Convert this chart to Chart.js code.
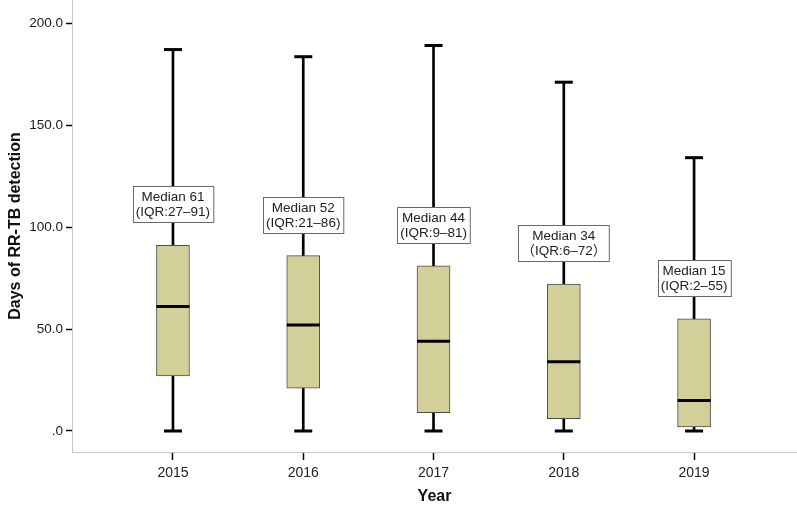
<!DOCTYPE html>
<html>
<head>
<meta charset="utf-8">
<script src="https://cdn.jsdelivr.net/npm/chart.js@4"></script>
<style>
  html, body { margin: 0; padding: 0; background: #fff; }
  #wrap { width: 797px; height: 508px; }
</style>
</head>
<body>
<div id="wrap"><canvas id="c" width="797" height="508"></canvas></div>
<script>
// ---- data ----
const years = [2015, 2016, 2017, 2018, 2019];
const minVals = [0, 0, 0, 0, 0];
const q1Vals = [27, 21, 9, 6, 2];
const medianVals = [61, 52, 44, 34, 15];
const q3Vals = [91, 86, 81, 72, 55];
const maxVals = [187, 183.5, 189, 171, 134];
const medianLabels = ['Median 61', 'Median 52', 'Median 44', 'Median 34', 'Median 15'];
const iqrLabels = ['(IQR:27\u201391)', '(IQR:21\u201386)', '(IQR:9\u201381)', '\uFF08IQR:6\u201372\uFF09', '(IQR:2\u201355)'];
const yTickValues = [0, 50, 100, 150, 200];

// ---- build datasets ----
const whiskerData = years.map((y, i) => ({ x: y, y: [minVals[i], maxVals[i]] }));
const boxData = years.map((y, i) => ({ x: y, y: [q1Vals[i], q3Vals[i]] }));
const medianData = years.map((y, i) => ({ x: y, y: medianVals[i] }));
const capData = years.flatMap((y, i) => [{ x: y, y: minVals[i] }, { x: y, y: maxVals[i] }]);

const FONT = "'Liberation Sans', Arial, 'Noto Sans CJK SC', sans-serif";

const annotationPlugin = {
  id: 'medianNotes',
  afterDatasetsDraw(chart) {
    const ctx = chart.ctx;
    const xs = chart.scales.x, ys = chart.scales.y;
    ctx.save();
    ctx.font = "13.5px " + FONT;
    years.forEach((yr, i) => {
      const cx = xs.getPixelForValue(yr);
      const bottom = ys.getPixelForValue(q3Vals[i]) - 23;
      const w = Math.max(ctx.measureText(medianLabels[i]).width, ctx.measureText(iqrLabels[i]).width) + 6;
      const h = 36;
      const left = Math.round(cx - w / 2) + 0.5;
      const top = Math.round(bottom - h) + 0.5;
      ctx.fillStyle = '#ffffff';
      ctx.fillRect(left, top, w, h);
      ctx.strokeStyle = '#6a6a6a';
      ctx.lineWidth = 1;
      ctx.strokeRect(left, top, w, h);
      ctx.fillStyle = '#222';
      ctx.textAlign = 'center';
      ctx.textBaseline = 'middle';
      ctx.fillText(medianLabels[i], cx, top + h / 2 - 7);
      ctx.fillText(iqrLabels[i], cx, top + h / 2 + 8);
    });
    ctx.restore();
  }
};

new Chart(document.getElementById('c'), {
  type: 'bar',
  data: {
    datasets: [
      {
        label: 'whisker',
        data: whiskerData,
        backgroundColor: '#000',
        borderWidth: 0,
        barThickness: 2,
        grouped: false,
        order: 3
      },
      {
        label: 'box',
        data: boxData,
        backgroundColor: '#d3cf99',
        borderColor: '#4d4d4d',
        borderWidth: 1,
        borderSkipped: false,
        barThickness: 33,
        grouped: false,
        order: 2
      },
      {
        type: 'line',
        label: 'median',
        data: medianData,
        showLine: false,
        pointStyle: 'line',
        pointRadius: 16.5,
        pointHoverRadius: 16.5,
        borderColor: '#000',
        borderWidth: 3,
        order: 1
      },
      {
        type: 'line',
        label: 'caps',
        data: capData,
        showLine: false,
        pointStyle: 'line',
        pointRadius: 9,
        pointHoverRadius: 9,
        borderColor: '#000',
        borderWidth: 3,
        order: 1
      }
    ]
  },
  options: {
    responsive: false,
    animation: false,
    layout: { padding: 0, autoPadding: false },
    plugins: { legend: { display: false }, tooltip: { enabled: false } },
    scales: {
      x: {
        type: 'linear',
        min: 2014.225,
        max: 2019.79,
        offset: false,
        afterBuildTicks(scale) { scale.ticks = years.map(v => ({ value: v })); },
        afterFit(scale) {
          scale.height = 56;
          scale.paddingLeft = 0; scale.paddingRight = 0;
          scale.paddingTop = 0; scale.paddingBottom = 0;
        },
        grid: { offset: false, drawOnChartArea: false, drawTicks: true, tickLength: 8, tickColor: '#000', tickWidth: 1.5 },
        border: { display: true, color: '#c8c8c8', width: 1 },
        ticks: {
          color: '#222',
          padding: 5,
          font: { family: FONT, size: 14 },
          callback: v => String(v),
          maxRotation: 0
        },
        title: {
          display: true,
          text: 'Year',
          color: '#111',
          font: { family: FONT, size: 16, weight: 'bold', lineHeight: 1 },
          padding: { top: 0, bottom: 3 }
        }
      },
      y: {
        type: 'linear',
        min: -10.3,
        max: 211.3,
        afterBuildTicks(scale) { scale.ticks = yTickValues.map(v => ({ value: v })); },
        afterFit(scale) {
          scale.width = 72;
          scale.paddingLeft = 0; scale.paddingRight = 0;
          scale.paddingTop = 0; scale.paddingBottom = 0;
        },
        grid: { drawOnChartArea: false, drawTicks: true, tickLength: 6, tickColor: '#000', tickWidth: 1.5 },
        border: { display: true, color: '#c8c8c8', width: 1 },
        ticks: {
          color: '#1a1a1a',
          padding: 3,
          font: { family: FONT, size: 13.5 },
          callback: v => (v === 0 ? '.0' : v.toFixed(1))
        },
        title: {
          display: true,
          text: 'Days of RR-TB detection',
          color: '#111',
          font: { family: FONT, size: 16, weight: 'bold', lineHeight: 1 },
          padding: { top: 8, bottom: 0 }
        }
      }
    }
  },
  plugins: [annotationPlugin]
});
</script>
</body>
</html>
